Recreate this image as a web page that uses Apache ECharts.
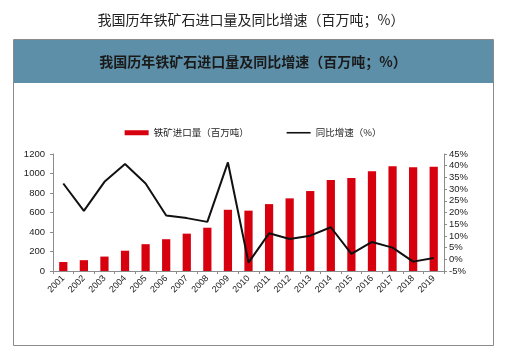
<!DOCTYPE html>
<html>
<head>
<meta charset="utf-8">
<script src="https://cdn.jsdelivr.net/npm/echarts@6/dist/echarts.min.js"></script>
<style>
  html, body { margin: 0; padding: 0; background: #fff; }
  #chart { width: 506px; height: 354px; }
</style>
</head>
<body>
<div id="chart"></div>
<script>
// Iron ore imports (million tonnes) and YoY growth (%), 2001-2019
const years = ["2001", "2002", "2003", "2004", "2005", "2006", "2007", "2008", "2009", "2010",
               "2011", "2012", "2013", "2014", "2015", "2016", "2017", "2018", "2019"];
const imports = [92, 111, 148, 208, 275, 326, 383, 444, 628, 619,
                 686, 745, 820, 933, 953, 1024, 1075, 1064, 1069];
const growth = [32.4, 20.7, 33.1, 40.7, 32.4, 18.7, 17.6, 16.0, 41.4, -1.4,
                11.1, 8.7, 10.1, 13.7, 2.3, 7.4, 5.0, -1.0, 0.6];
const leftTicks = { min: 0, max: 1200, interval: 200 };
const rightTicks = { min: -5, max: 45, interval: 5 };

const TITLE = "我国历年铁矿石进口量及同比增速（百万吨；%）";
const RED = "#d7000f";
const FONT = "'Liberation Sans', Arial, 'Noto Sans CJK SC', sans-serif";

const chart = echarts.init(document.getElementById("chart"), null, { renderer: "canvas" });

const axisLine = { show: true, lineStyle: { color: "#8c8c8c", width: 1 } };
const axisTick = { show: true, length: 3, lineStyle: { color: "#8c8c8c" } };

chart.setOption({
  animation: false,
  textStyle: { fontFamily: FONT },
  graphic: [
    { type: "rect", z: 0, shape: { x: 13.5, y: 39.5, width: 480, height: 306 },
      style: { fill: "#fff", stroke: "#8a8a8a", lineWidth: 1 } },
    { type: "rect", z: 1, shape: { x: 14, y: 40, width: 479, height: 43 },
      style: { fill: "#5e8fa8" } },
    { type: "text", z: 2, x: 253, y: 62,
      style: { text: TITLE, fill: "#1a1a1a", font: "bold 14px 'Noto Sans CJK SC', sans-serif",
               align: "center", verticalAlign: "middle" } },
    { type: "text", z: 2, x: 251, y: 20,
      style: { text: TITLE, fill: "#222", font: "14px 'Noto Sans CJK SC', sans-serif",
               align: "center", verticalAlign: "middle" } },
  ],
  legend: {
    top: 123, left: "center",
    itemGap: 38, itemWidth: 24, itemHeight: 5,
    textStyle: { fontSize: 9.5, color: "#222", fontFamily: "'Noto Sans CJK SC', sans-serif" },
    data: [
      { name: "铁矿进口量（百万吨）", icon: "rect" },
      { name: "同比增速（%）", icon: "path://M0,0 L24,0 L24,1.6 L0,1.6 Z", itemStyle: { color: "#111" } },
    ],
  },
  grid: { left: 53, right: 62, top: 154, bottom: 83 },
  xAxis: {
    type: "category",
    data: years,
    axisLine: axisLine,
    axisTick: { show: true, length: 3, alignWithLabel: false, lineStyle: { color: "#8c8c8c" } },
    axisLabel: { rotate: 45, fontSize: 9, color: "#222", margin: 6, interval: 0 },
  },
  yAxis: [
    {
      type: "value", min: leftTicks.min, max: leftTicks.max, interval: leftTicks.interval,
      axisLine: axisLine, axisTick: axisTick, splitLine: { show: false },
      axisLabel: { fontSize: 9.5, color: "#222", margin: 8, formatter: (v) => String(v) },
    },
    {
      type: "value", min: rightTicks.min, max: rightTicks.max, interval: rightTicks.interval,
      position: "right",
      axisLine: axisLine, axisTick: axisTick, splitLine: { show: false },
      axisLabel: { fontSize: 9.5, color: "#222", margin: 5, formatter: "{value}%" },
    },
  ],
  series: [
    {
      name: "铁矿进口量（百万吨）", type: "bar", data: imports, yAxisIndex: 0,
      barWidth: "40%", itemStyle: { color: RED },
    },
    {
      name: "同比增速（%）", type: "line", data: growth, yAxisIndex: 1,
      symbol: "none", lineStyle: { color: "#111", width: 2 }, itemStyle: { color: "#111" },
    },
  ],
});
</script>
</body>
</html>
